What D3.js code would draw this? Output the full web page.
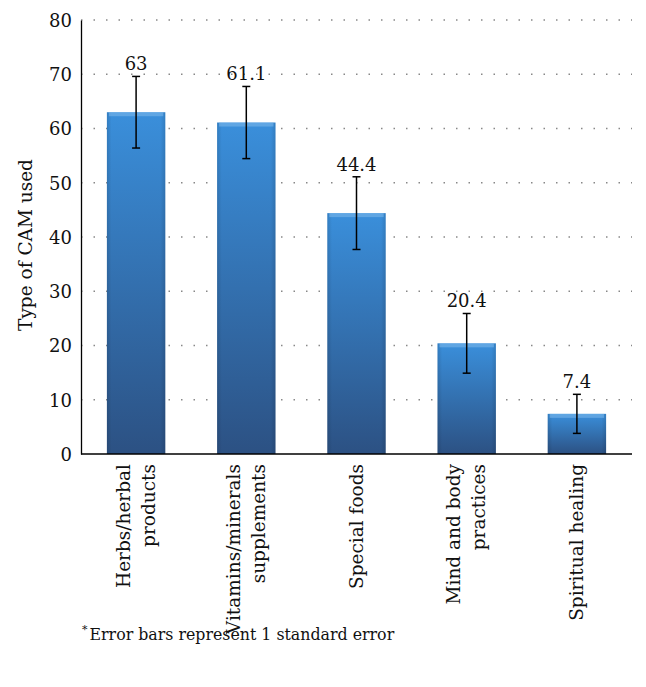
<!DOCTYPE html>
<html><head><meta charset="utf-8">
<script src="https://cdn.jsdelivr.net/npm/d3@7"></script>
<style>body{margin:0;background:#fff} svg text{font-family:"DejaVu Serif",serif !important;}</style>
</head><body>
<svg id="c" width="646" height="687"></svg>
<script>
const categories = [["Herbs/herbal","products"],["Vitamins/minerals","supplements"],["Special foods"],["Mind and body","practices"],["Spiritual healing"]];
const values = [63, 61.1, 44.4, 20.4, 7.4];
const errors = [6.6, 6.65, 6.7, 5.5, 3.6];
const yTicks = [0,10,20,30,40,50,60,70,80];
const yTitle = "Type of CAM used";
const footnote = "Error bars represent 1 standard error";

(function(){
const svg = d3.select("#c");
const pL = 81, pR = 632, pT = 20, pB = 454;
const x = d3.scaleBand().domain(d3.range(values.length)).range([pL, pR]).paddingInner(0.47).paddingOuter(0.235);
const y = d3.scaleLinear().domain([0, 80]).range([pB, pT]);

const defs = svg.append("defs");
const g = defs.append("linearGradient").attr("id","bg").attr("x1",0).attr("x2",0).attr("y1",0).attr("y2",1);
g.append("stop").attr("offset","0%").attr("stop-color","#3a8fdb");
g.append("stop").attr("offset","100%").attr("stop-color","#2c5183");
const gh = defs.append("linearGradient").attr("id","bh").attr("x1",0).attr("x2",1).attr("y1",0).attr("y2",0);
gh.append("stop").attr("offset","0%").attr("stop-color","#000").attr("stop-opacity",0.12);
gh.append("stop").attr("offset","8%").attr("stop-color","#000").attr("stop-opacity",0);
gh.append("stop").attr("offset","92%").attr("stop-color","#000").attr("stop-opacity",0);
gh.append("stop").attr("offset","100%").attr("stop-color","#000").attr("stop-opacity",0.12);

// gridlines
svg.append("g").selectAll("line").data(yTicks.filter(d=>d>0)).join("line")
  .attr("x1", pL).attr("x2", pR).attr("y1", d=>y(d)).attr("y2", d=>y(d))
  .attr("stroke","#888").attr("stroke-width",1.3).attr("stroke-dasharray","1.5,11");

// y axis
const ya = svg.append("g").attr("transform",`translate(${pL},0)`)
  .call(d3.axisLeft(y).tickValues(yTicks).tickSize(0).tickPadding(9));
ya.select(".domain").attr("stroke","#000").attr("stroke-width",1.3);
ya.selectAll("text").attr("font-size",18).attr("fill","#111").attr("dy","0.36em");

// bars
const bars = svg.append("g").selectAll("g").data(values).join("g");
bars.append("rect").attr("x",(d,i)=>x(i)).attr("width",x.bandwidth())
  .attr("y",d=>y(d)).attr("height",d=>pB-y(d)).attr("fill","url(#bg)");
bars.append("rect").attr("x",(d,i)=>x(i)).attr("width",x.bandwidth())
  .attr("y",d=>y(d)).attr("height",d=>pB-y(d)).attr("fill","url(#bh)");
bars.append("rect").attr("x",(d,i)=>x(i)+2).attr("width",x.bandwidth()-4)
  .attr("y",d=>y(d)).attr("height",4).attr("fill","#7ab6ea").attr("opacity",0.6);

// x axis
svg.append("line").attr("x1",pL).attr("x2",pR).attr("y1",pB).attr("y2",pB)
  .attr("stroke","#000").attr("stroke-width",1.5);

// error bars
const eb = svg.append("g").selectAll("g").data(values).join("g")
  .attr("stroke","#000").attr("stroke-width",1.5);
eb.append("line").attr("x1",(d,i)=>x(i)+x.bandwidth()/2).attr("x2",(d,i)=>x(i)+x.bandwidth()/2)
  .attr("y1",(d,i)=>y(d+errors[i])).attr("y2",(d,i)=>y(d-errors[i]));
eb.append("line").attr("x1",(d,i)=>x(i)+x.bandwidth()/2-4).attr("x2",(d,i)=>x(i)+x.bandwidth()/2+4)
  .attr("y1",(d,i)=>y(d+errors[i])).attr("y2",(d,i)=>y(d+errors[i]));
eb.append("line").attr("x1",(d,i)=>x(i)+x.bandwidth()/2-4).attr("x2",(d,i)=>x(i)+x.bandwidth()/2+4)
  .attr("y1",(d,i)=>y(d-errors[i])).attr("y2",(d,i)=>y(d-errors[i]));

// value labels
svg.append("g").selectAll("text").data(values).join("text")
  .attr("x",(d,i)=>x(i)+x.bandwidth()/2).attr("y",(d,i)=>y(d+errors[i])-6)
  .attr("text-anchor","middle").attr("font-size",18).attr("fill","#111")
  .text(d=>d);

// category labels
const cl = svg.append("g").selectAll("text").data(categories).join("text")
  .attr("transform",(d,i)=>`translate(${x(i)+x.bandwidth()/2},${pB+10}) rotate(-90)`)
  .attr("text-anchor","end").attr("font-size",18.5).attr("fill","#111");
cl.each(function(d){
  const t = d3.select(this);
  const n = d.length;
  d.forEach((line,j)=>{
    t.append("tspan").attr("x",0).attr("y", (j-(n-1)/2)*25 + 6).text(line);
  });
});

// y title
svg.append("text").attr("transform",`translate(32,245) rotate(-90)`)
  .attr("text-anchor","middle").attr("font-size",18.5).attr("fill","#111").text(yTitle);

// footnote
const fn = svg.append("text").attr("x",82).attr("y",640).attr("font-size",15.8).attr("fill","#111");
fn.append("tspan").attr("font-size",11).attr("dy",-7).text("*");
fn.append("tspan").attr("dy",7).attr("dx",2).text(footnote);
})();
</script>
</body></html>
